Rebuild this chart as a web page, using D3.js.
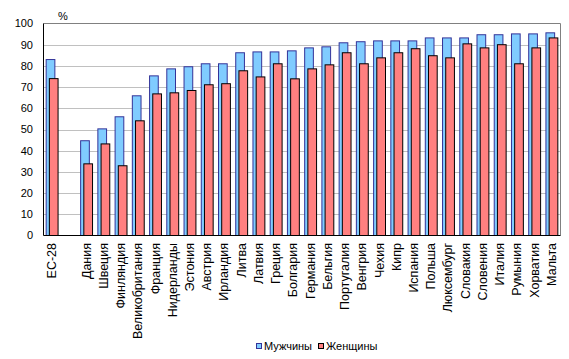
<!DOCTYPE html>
<html><head><meta charset="utf-8">
<script src="https://cdn.jsdelivr.net/npm/d3@7"></script>
<style>body{margin:0;background:#fff}svg{display:block;font-family:"Liberation Sans",Arial,sans-serif}</style>
</head><body>
<svg id="c" width="569" height="359"></svg>
<script>
const categories = ["ЕС-28","","Дания","Швеция","Финляндия","Великобритания","Франция","Нидерланды","Эстония","Австрия","Ирландия","Литва","Латвия","Греция","Болгария","Германия","Бельгия","Португалия","Венгрия","Чехия","Кипр","Испания","Польша","Люксембург","Словакия","Словения","Италия","Румыния","Хорватия","Мальта"];
const men =   [83,null,44.7,50.3,56,65.9,75.3,78.6,79.6,81,81,86.2,86.6,86.6,87.1,88.5,89,90.9,91.4,91.8,91.8,91.8,93.2,93.2,93.2,94.7,94.7,95.1,95.1,95.6];
const women = [74,null,33.8,43.2,32.9,54.1,66.8,67.3,68.4,71.1,71.6,77.7,74.8,81,73.9,78.6,80.5,86.2,81,83.8,86.2,88.1,84.8,83.8,90.4,88.5,90,81,88.5,93.2];
const yTicks = [0,10,20,30,40,50,60,70,80,90,100];
const seriesNames = ["Мужчины","Женщины"];

const svg = d3.select("#c");
const L = 43.5, R = 560.5, T = 23.5, B = 235.5;
const x = d3.scaleBand().domain(d3.range(categories.length)).range([L, R]).paddingInner(0).paddingOuter(0);
const y = d3.scaleLinear().domain([0,100]).range([B, T]);

// gridlines
svg.append("g").selectAll("line").data(yTicks.filter(d=>d>0 && d<100)).join("line")
  .attr("x1", L).attr("x2", R).attr("y1", d=>Math.round(y(d))+0.5).attr("y2", d=>Math.round(y(d))+0.5)
  .attr("stroke", "#c0c0c0").attr("stroke-width", 1);
// plot border top/right
svg.append("path").attr("d", `M${L},${T}H${R}V${B}`).attr("fill","none").attr("stroke","#808080");

const bw = 8.7, off = 3.2;
const g = svg.append("g");
categories.forEach((c,i)=>{
  const cx = x(i) + x.bandwidth()/2;
  if (men[i] != null) {
    g.append("rect").attr("x", cx - (bw+off)/2).attr("y", y(men[i])).attr("width", bw).attr("height", B - y(men[i]))
      .attr("fill", "#80ccff").attr("stroke", "#333399").attr("stroke-width", 1);
  }
  if (women[i] != null) {
    g.append("rect").attr("x", cx - (bw+off)/2 + off).attr("y", y(women[i])).attr("width", bw).attr("height", B - y(women[i]))
      .attr("fill", "#ff8080").attr("stroke", "#000").attr("stroke-width", 1);
  }
});

// axes lines
svg.append("line").attr("x1", L).attr("x2", L).attr("y1", T).attr("y2", B).attr("stroke", "#000");
svg.append("line").attr("x1", L).attr("x2", R).attr("y1", B).attr("y2", B).attr("stroke", "#000");

// y tick labels
svg.append("g").selectAll("text").data(yTicks).join("text")
  .attr("x", 33).attr("y", d=>y(d)).attr("dy","0.35em").attr("text-anchor","end")
  .attr("font-size", 11).attr("fill","#000").text(d=>d);
svg.append("text").attr("x", 58).attr("y", 20).attr("font-size", 11).text("%");

// x labels
svg.append("g").selectAll("text").data(categories).join("text")
  .attr("transform", (d,i)=>`translate(${x(i)+x.bandwidth()/2+4},243) rotate(-90)`)
  .attr("text-anchor","end").attr("font-size", 12.5).attr("fill","#000").text(d=>d);

// legend
const leg = svg.append("g");
const items = [{n:seriesNames[0], f:"#80ccff", s:"#333399", x:256},{n:seriesNames[1], f:"#ff8080", s:"#000", x:318}];
items.forEach(it=>{
  leg.append("rect").attr("x", it.x+0.5).attr("y", 343.5).attr("width", 5).attr("height", 5).attr("fill", it.f).attr("stroke", it.s);
  leg.append("text").attr("x", it.x+8).attr("y", 346).attr("dy","0.35em").attr("font-size", 11).text(it.n);
});
</script>
</body></html>
